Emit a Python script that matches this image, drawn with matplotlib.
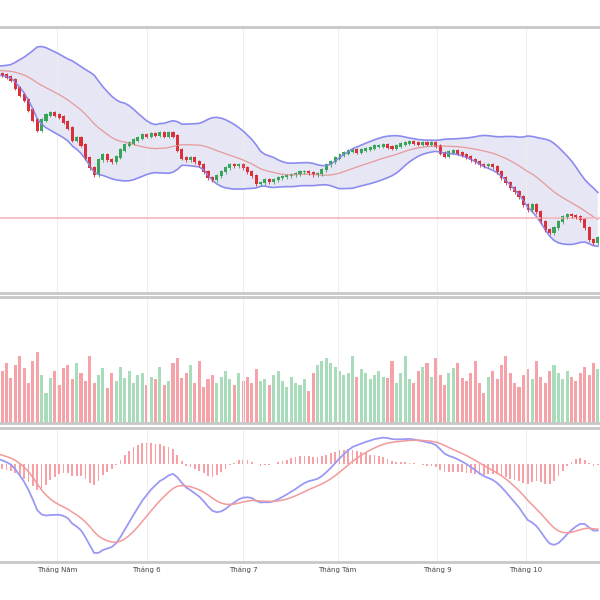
import numpy as np
import pandas as pd
import matplotlib
matplotlib.use("Agg")
import matplotlib.pyplot as plt

# closes before the visible window (warm-up for indicators)
prior_closes = [214, 216, 219, 221, 222, 224, 223, 225, 227, 226, 228, 229, 228, 230, 231,
                230, 232, 233, 231, 230, 232, 233, 231, 229, 230, 228, 227, 226, 225, 226]
closes = [225, 223, 220, 212, 205, 200, 190, 180, 170, 180, 185, 187, 185, 183, 178, 172, 160,
          162, 155, 142, 132, 125, 140, 145, 140, 138, 143, 150, 155, 157, 160, 162, 165, 164,
          166, 165, 167, 164, 167, 164, 150, 142, 140, 142, 138, 135, 128, 122, 120, 124, 128,
          132, 135, 134, 135, 132, 128, 124, 116, 117, 120, 118, 120, 122, 123, 124, 125, 126,
          128, 128, 127, 125, 126, 130, 135, 138, 142, 145, 147, 149, 150, 148, 150, 151, 152,
          154, 154, 155, 153, 152, 154, 156, 157, 158, 157, 156, 157, 156, 157, 154, 147, 144,
          148, 149, 147, 145, 143, 140, 138, 135, 134, 135, 133, 128, 122, 117, 112, 108, 103,
          95, 90, 95, 88, 78, 70, 67, 72, 78, 83, 85, 84, 83, 80, 72, 60, 57, 62]
volumes = [52, 60, 45, 58, 66, 55, 40, 62, 70, 48, 30, 45, 52, 38, 55, 58, 44, 60, 50, 42, 66,
           40, 48, 55, 35, 50, 42, 56, 45, 52, 40, 48, 50, 38, 46, 44, 56, 38, 42, 60, 64, 45,
           50, 58, 40, 62, 36, 44, 48, 40, 46, 52, 44, 38, 50, 42, 46, 40, 54, 42, 44, 38, 48,
           52, 42, 36, 46, 40, 38, 44, 32, 50, 58, 62, 64, 60, 56, 52, 48, 50, 66, 46, 54, 50,
           44, 48, 52, 46, 45, 62, 40, 50, 66, 44, 40, 52, 56, 60, 46, 64, 48, 38, 50, 55, 60,
           45, 42, 50, 62, 40, 30, 46, 52, 44, 58, 66, 50, 40, 36, 48, 54, 44, 62, 46, 40, 52,
           58, 50, 44, 52, 46, 42, 50, 56, 48, 60, 54]
month_labels = ["Tháng Năm", "Tháng 6", "Tháng 7", "Tháng Tám", "Tháng 9", "Tháng 10"]
month_pos = [12.5, 33, 55, 76.6, 99.3, 119.5]
ref_level = 82

allc = pd.Series(prior_closes + closes, dtype=float)
n0 = len(prior_closes)
mid = allc.rolling(20).mean()
sd = allc.rolling(20).std(ddof=0)
upper, lower = mid + 2 * sd, mid - 2 * sd
ema12 = allc.ewm(span=12, adjust=False).mean()
ema26 = allc.ewm(span=26, adjust=False).mean()
macd = ema12 - ema26
sig = macd.ewm(span=9, adjust=False).mean()
hist = macd - sig

idx = np.arange(len(allc)) - n0
c = np.array(closes, float)
o = np.concatenate([[prior_closes[-1]], c[:-1]])
x = np.arange(len(c))
up = c >= o
GREEN, RED = "#3aa35a", "#d9303a"

fig = plt.figure(figsize=(6, 6), dpi=100)
ax1 = fig.add_axes([0, 0.512, 1, 0.443])
ax2 = fig.add_axes([0, 0.295, 1, 0.21])
ax3 = fig.add_axes([0, 0.063, 1, 0.223])
for ax in (ax1, ax2, ax3):
    ax.set_xlim(-0.5, 136.5)
    for s in ("left", "right"):
        ax.spines[s].set_visible(False)
    for s in ("top", "bottom"):
        ax.spines[s].set_color("#c8c8c8")
        ax.spines[s].set_linewidth(2)
    ax.set_yticks([])
    ax.set_xticks(month_pos)
    ax.grid(axis="x", color="#eeeeee", lw=0.8)
    ax.tick_params(length=0)
    ax.set_xticklabels([])

ax1.fill_between(idx, lower, upper, color="#dcdcf0", alpha=0.7, lw=0)
ax1.plot(idx, upper, color="#8c8cf0", lw=1.2)
ax1.plot(idx, lower, color="#8c8cf0", lw=1.2)
ax1.plot(idx, mid, color="#e59a9a", lw=0.9)
ax1.axhline(ref_level, color="#f6b6bc", lw=1.2)
cols = np.where(up, GREEN, RED)
ax1.vlines(x, np.minimum(o, c) - 2, np.maximum(o, c) + 2, color=cols, lw=0.6)
ax1.bar(x, np.abs(c - o) + 1.2, bottom=np.minimum(o, c) - 0.6, width=0.7, color=cols)
ax1.set_ylim(7, 273)

vcols = np.where(up, "#a8dcbb", "#f5a3a8")
ax2.bar(x, volumes, width=0.7, color=vcols)
ax2.set_ylim(0, 125)

ax3.bar(idx, hist, width=0.4, color="#f7a1a6")
ax3.plot(idx, macd, color="#9a9af5", lw=1.3)
ax3.plot(idx, sig, color="#f29a9a", lw=1.1)
vals = pd.concat([macd[n0:], sig[n0:]])
pad = (vals.max() - vals.min()) * 0.08
ax3.set_ylim(vals.min() - pad, vals.max() + pad)
ax3.set_xticklabels(month_labels, fontsize=5, color="#444444")
ax3.tick_params(axis="x", pad=3)

fig.savefig("out.png", dpi=100)
